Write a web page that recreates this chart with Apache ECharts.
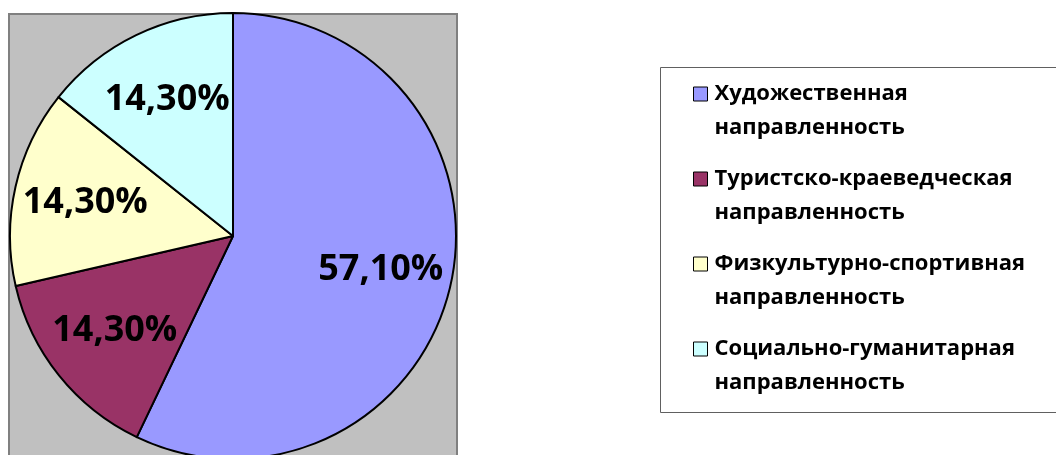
<!DOCTYPE html>
<html>
<head>
<meta charset="utf-8">
<script src="https://cdn.jsdelivr.net/npm/echarts@6/dist/echarts.min.js"></script>
<style>
  html, body { margin: 0; padding: 0; background: #fff; }
  #chart { width: 1056px; height: 455px; }
</style>
</head>
<body>
<div id="chart"></div>
<script>
// данные
var categories = [
  "Художественная направленность",
  "Туристско-краеведческая направленность",
  "Физкультурно-спортивная направленность",
  "Социально-гуманитарная направленность"
];
var values = [57.1, 14.3, 14.3, 14.3];
var colors = ["#9999FF", "#993366", "#FFFFCC", "#CCFFFF"];

var font = "'Open Sans', 'DejaVu Sans', sans-serif";
var chart = echarts.init(document.getElementById("chart"), null, { renderer: "canvas" });

var pieData = categories.map(function (name, i) {
  return { name: name, value: values[i], itemStyle: { color: colors[i] } };
});

var option = {
  animation: false,
  graphic: [
    // серая область диаграммы
    {
      type: "rect",
      z: -10,
      shape: { x: 9, y: 14, width: 448, height: 460 },
      style: { fill: "#C0C0C0", stroke: "#808080", lineWidth: 2 }
    },
    // рамка легенды
    {
      type: "rect",
      z: -10,
      shape: { x: 660.5, y: 67.5, width: 420, height: 345 },
      style: { fill: "#fff", stroke: "#606060", lineWidth: 1 }
    }
  ],
  legend: {
    orient: "vertical",
    left: 693,
    top: 43,
    padding: 0,
    icon: "rect",
    itemWidth: 14,
    itemHeight: 14,
    itemGap: -17,
    data: categories,
    itemStyle: { borderColor: "#000", borderWidth: 1 },
    // иконка напротив первой строки: пустая строка сверху
    formatter: function (name) {
      return " \n" + name.replace(" ", "\n");
    },
    textStyle: {
      fontFamily: font,
      fontWeight: "bold",
      fontSize: 22,
      color: "#000",
      lineHeight: 34,
      padding: [0, 0, 0, 2]
    }
  },
  series: [
    {
      type: "pie",
      center: [233, 236],
      radius: 223,
      startAngle: 90,
      clockwise: true,
      silent: true,
      label: { show: false },
      labelLine: { show: false },
      itemStyle: { borderColor: "#000", borderWidth: 2 },
      data: pieData
    },
    {
      // подписи долей
      type: "pie",
      center: [233, 236],
      radius: [74, 223],
      startAngle: 90,
      clockwise: true,
      silent: true,
      itemStyle: { color: "rgba(0,0,0,0)", borderWidth: 0 },
      label: {
        show: true,
        position: "inside",
        fontFamily: font,
        fontWeight: "bold",
        fontSize: 36,
        color: "#000",
        formatter: function (p) {
          return p.value.toFixed(2).replace(".", ",") + "%";
        }
      },
      labelLine: { show: false },
      data: categories.map(function (name, i) {
        return { name: name, value: values[i] };
      })
    }
  ]
};

chart.setOption(option);
</script>
</body>
</html>
